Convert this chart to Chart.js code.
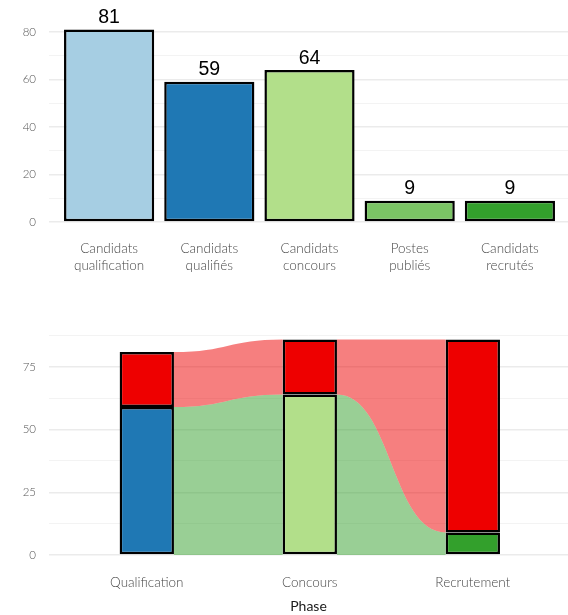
<!DOCTYPE html>
<html>
<head>
<meta charset="utf-8">
<script src="https://cdn.jsdelivr.net/npm/chart.js@4"></script>
<style>
  body { margin: 0; background: #fff; }
  .wrap { position: relative; width: 568px; height: 615px; }
  #top { position: absolute; left: 0; top: 0; }
  #bottom { position: absolute; left: 0; top: 290px; }
</style>
</head>
<body>
<div class="wrap">
  <canvas id="top" width="568" height="290"></canvas>
  <canvas id="bottom" width="568" height="325"></canvas>
</div>
<script>
// donnees du haut
const etapes = [['Candidats', 'qualification'], ['Candidats', 'qualifiés'], ['Candidats', 'concours'], ['Postes', 'publiés'], ['Candidats', 'recrutés']];
const effectifs = [81, 59, 64, 9, 9];
const couleursEtapes = ['#a6cee3', '#1f78b4', '#b2df8a', '#7bc465', '#33a02c'];
const ticksHaut = [0, 20, 40, 60, 80];
const ticksHautMineurs = [10, 30, 50, 70];

// donnees du bas (alluvial)
const phases = ['Qualification', 'Concours', 'Recrutement'];
const retenus = [59, 64, 9];
const nonRetenus = [22, 22, 77];
const couleursRetenus = ['#1f78b4', '#b2df8a', '#33a02c'];
const couleurNon = '#ee0000';
const ticksBas = [0, 25, 50, 75];
const ticksBasMineurs = [12.5, 37.5, 62.5, 87.5];

const tickFont = { family: 'Lato', size: 11.5, weight: 300 };
const tickColor = '#555555';

function gridOpts(majors) {
  return {
    color: function (c) { return majors.includes(c.tick.value) ? '#ebebeb' : '#f3f3f3'; },
    lineWidth: function (c) { return majors.includes(c.tick.value) ? 1.6 : 1; },
    drawTicks: false
  };
}

// etiquettes au dessus des barres
const valeursPlugin = {
  id: 'valeurs',
  afterDatasetsDraw(chart) {
    const ctx = chart.ctx;
    const meta = chart.getDatasetMeta(0);
    ctx.save();
    ctx.font = '19.5px "Liberation Sans", Arial, sans-serif';
    ctx.fillStyle = '#000';
    ctx.textAlign = 'center';
    ctx.textBaseline = 'bottom';
    meta.data.forEach(function (bar, i) {
      ctx.fillText(String(effectifs[i]), bar.x, bar.y - 2);
    });
    ctx.restore();
  }
};

new Chart(document.getElementById('top'), {
  type: 'bar',
  data: {
    datasets: [{
      data: effectifs.map(function (v, i) { return { x: i + 1, y: v }; }),
      backgroundColor: couleursEtapes,
      borderColor: '#000',
      borderWidth: 2.5,
      borderSkipped: false,
      categoryPercentage: 1,
      barPercentage: 0.9
    }]
  },
  options: {
    responsive: false,
    animation: false,
    layout: { padding: { top: 19, left: 0, right: 0, bottom: 0 } },
    plugins: { legend: { display: false }, tooltip: { enabled: false } },
    scales: {
      x: {
        type: 'linear',
        offset: false,
        min: 0.4,
        max: 5.58,
        grid: { display: false, drawTicks: false, offset: false },
        border: { display: false },
        afterBuildTicks: function (s) { s.ticks = etapes.map(function (e, i) { return { value: i + 1 }; }); },
        afterFit: function (s) { s.height = 58.3; s.paddingLeft = 0; s.paddingRight = 0; },
        ticks: {
          autoSkip: false,
          maxRotation: 0,
          padding: 9,
          color: '#484848',
          font: { family: 'Lato', size: 13.5, weight: 300, lineHeight: 1.22 },
          callback: function (v) { return etapes[v - 1]; }
        }
      },
      y: {
        min: -4.05,
        max: 85.05,
        border: { display: false },
        grid: gridOpts(ticksHaut),
        afterBuildTicks: function (s) {
          s.ticks = ticksHaut.concat(ticksHautMineurs).map(function (v) { return { value: v }; });
        },
        afterFit: function (s) { s.width = 49; },
        ticks: {
          padding: 13,
          color: tickColor,
          font: tickFont,
          callback: function (v) { return ticksHaut.includes(v) ? String(v) : ''; }
        }
      }
    }
  },
  plugins: [valeursPlugin]
});

// flux entre les phases
const fluxPlugin = {
  id: 'flux',
  beforeDatasetsDraw(chart) {
    const ctx = chart.ctx;
    const y = chart.scales.y;
    const bars = chart.getDatasetMeta(0).data;
    const totaux = retenus.map(function (v, i) { return v + nonRetenus[i]; });
    function ruban(x0, x1, hautG, hautD, basG, basD, couleur) {
      const xm = (x0 + x1) / 2;
      const a = y.getPixelForValue(hautG), b = y.getPixelForValue(hautD);
      const c = y.getPixelForValue(basD), d = y.getPixelForValue(basG);
      ctx.beginPath();
      ctx.moveTo(x0, a);
      ctx.bezierCurveTo(xm, a, xm, b, x1, b);
      ctx.lineTo(x1, c);
      ctx.bezierCurveTo(xm, c, xm, d, x0, d);
      ctx.closePath();
      ctx.fillStyle = couleur;
      ctx.fill();
    }
    ctx.save();
    for (let i = 0; i < phases.length - 1; i++) {
      const x0 = bars[i].x + bars[i].width / 2;
      const x1 = bars[i + 1].x - bars[i + 1].width / 2;
      ruban(x0, x1, retenus[i], retenus[i + 1], 0, 0, 'rgba(51,160,44,0.5)');
      ruban(x0, x1, totaux[i], totaux[i + 1], retenus[i], retenus[i + 1], 'rgba(238,0,0,0.5)');
    }
    ctx.restore();
  }
};

new Chart(document.getElementById('bottom'), {
  type: 'bar',
  data: {
    datasets: [{
      data: retenus.map(function (v, i) { return { x: i + 1, y: v }; }),
      backgroundColor: couleursRetenus,
      borderColor: '#000',
      borderWidth: 2.5,
      borderSkipped: false,
      categoryPercentage: 1,
      barPercentage: 1 / 3
    }, {
      data: nonRetenus.map(function (v, i) { return { x: i + 1, y: v }; }),
      backgroundColor: couleurNon,
      borderColor: '#000',
      borderWidth: 2.5,
      borderSkipped: false,
      categoryPercentage: 1,
      barPercentage: 1 / 3
    }]
  },
  options: {
    responsive: false,
    animation: false,
    layout: { padding: { top: 38.6, left: 0, right: 0, bottom: 0 } },
    plugins: { legend: { display: false }, tooltip: { enabled: false } },
    scales: {
      x: {
        type: 'linear',
        offset: false,
        stacked: true,
        min: 0.4,
        max: 3.584,
        grid: { display: false, drawTicks: false, offset: false },
        border: { display: false },
        afterBuildTicks: function (s) { s.ticks = phases.map(function (p, i) { return { value: i + 1 }; }); },
        afterFit: function (s) { s.height = 49.2; s.paddingLeft = 0; s.paddingRight = 0; },
        title: {
          display: true,
          text: 'Phase',
          color: '#1a1a1a',
          font: { family: 'Lato', size: 14 },
          padding: { top: 0, bottom: 0 }
        },
        ticks: {
          autoSkip: false,
          maxRotation: 0,
          padding: 9,
          color: '#484848',
          font: { family: 'Lato', size: 13.5, weight: 300 },
          callback: function (v) { return phases[v - 1]; }
        }
      },
      y: {
        stacked: true,
        min: -4.3,
        max: 90.3,
        border: { display: false },
        grid: gridOpts(ticksBas),
        afterBuildTicks: function (s) {
          s.ticks = ticksBas.concat(ticksBasMineurs).map(function (v) { return { value: v }; });
        },
        afterFit: function (s) { s.width = 49; },
        ticks: {
          padding: 13,
          color: tickColor,
          font: tickFont,
          callback: function (v) { return ticksBas.includes(v) ? String(v) : ''; }
        }
      }
    }
  },
  plugins: [fluxPlugin]
});
</script>
</body>
</html>
